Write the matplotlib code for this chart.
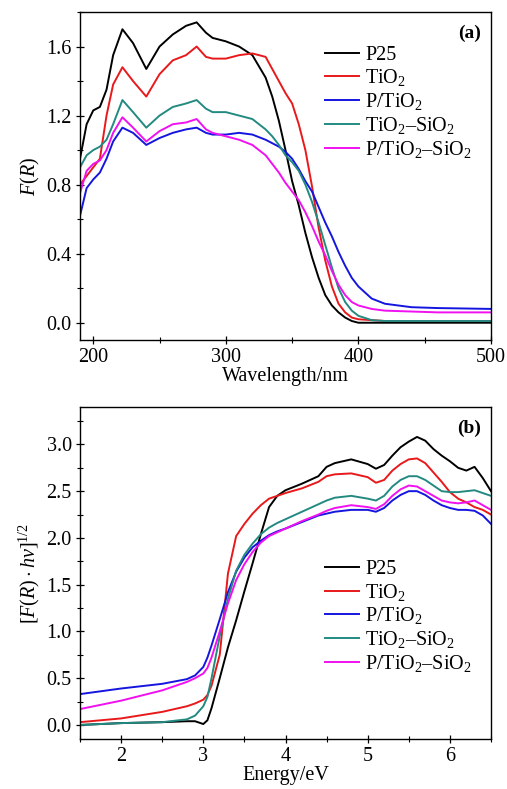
import matplotlib
matplotlib.use("Agg")
import matplotlib.pyplot as plt
from matplotlib.ticker import MultipleLocator, FormatStrFormatter

plt.rcParams['font.family'] = ['Liberation Serif', 'DejaVu Serif']
plt.rcParams['mathtext.fontset'] = 'custom'
plt.rcParams['mathtext.rm'] = 'Liberation Serif'
plt.rcParams['mathtext.it'] = 'Liberation Serif:italic'
plt.rcParams['mathtext.bf'] = 'Liberation Serif:bold'

labels = ['P25', 'TiO$_2$', 'P/TiO$_2$', 'TiO$_2$\u2013SiO$_2$', 'P/TiO$_2$\u2013SiO$_2$']
colors = ['#000000', '#e8191b', '#1515e0', '#238a82', '#f010f0']

# Panel (a): wavelength (nm) vs F(R)
wavelength = [190, 195, 200, 205, 210, 215, 222, 230, 240, 250, 260, 270, 278, 285, 290, 300,
              310, 320, 330, 335, 340, 345, 350, 355, 360, 365, 370, 375, 380, 385, 390, 395,
              400, 410, 420, 440, 460, 500]
fr_p25 = [0.95, 1.15, 1.23, 1.25, 1.35, 1.55, 1.70, 1.62, 1.47, 1.60, 1.67, 1.72, 1.74, 1.68, 1.65, 1.63,
          1.60, 1.55, 1.42, 1.31, 1.17, 1.00, 0.82, 0.68, 0.52, 0.38, 0.26, 0.16, 0.10, 0.06, 0.03, 0.01,
          0.00, 0.00, 0.00, 0.00, 0.00, 0.00]
fr_tio2 = [0.80, 0.85, 0.90, 0.95, 1.20, 1.38, 1.48, 1.40, 1.31, 1.44, 1.52, 1.55, 1.60, 1.54, 1.53, 1.53,
           1.55, 1.56, 1.54, 1.47, 1.40, 1.33, 1.27, 1.15, 1.00, 0.79, 0.55, 0.36, 0.21, 0.11, 0.06, 0.03,
           0.02, 0.015, 0.01, 0.01, 0.01, 0.01]
fr_ptio2 = [0.62, 0.78, 0.83, 0.87, 0.95, 1.05, 1.13, 1.10, 1.03, 1.07, 1.10, 1.12, 1.13, 1.10, 1.09, 1.09,
            1.10, 1.09, 1.06, 1.04, 1.02, 0.99, 0.95, 0.89, 0.82, 0.76, 0.67, 0.58, 0.50, 0.41, 0.33, 0.26,
            0.21, 0.14, 0.11, 0.09, 0.085, 0.08]
fr_tisi = [0.90, 0.97, 1.00, 1.02, 1.06, 1.15, 1.29, 1.22, 1.13, 1.20, 1.25, 1.27, 1.29, 1.24, 1.22, 1.22,
           1.20, 1.18, 1.12, 1.08, 1.03, 0.97, 0.93, 0.88, 0.80, 0.70, 0.58, 0.45, 0.32, 0.20, 0.12, 0.07,
           0.04, 0.015, 0.01, 0.01, 0.01, 0.01]
fr_ptisi = [0.75, 0.88, 0.92, 0.94, 1.00, 1.10, 1.19, 1.13, 1.05, 1.11, 1.15, 1.16, 1.18, 1.12, 1.10, 1.08,
            1.06, 1.03, 0.97, 0.92, 0.87, 0.81, 0.76, 0.71, 0.64, 0.56, 0.47, 0.39, 0.30, 0.22, 0.16, 0.12,
            0.10, 0.08, 0.07, 0.065, 0.06, 0.06]

# Panel (b): energy (eV) vs [F(R)*hv]^1/2
energy = [1.5, 2.0, 2.5, 2.8, 2.9, 3.0, 3.05, 3.1, 3.2, 3.3, 3.4, 3.5, 3.6, 3.7, 3.8, 3.9, 4.0, 4.2, 4.4,
          4.5, 4.6, 4.8, 5.0, 5.1, 5.2, 5.3, 5.4, 5.5, 5.6, 5.7, 5.8, 5.9, 6.0, 6.1, 6.2, 6.3, 6.4, 6.5]
tauc_p25 = [0.00, 0.02, 0.03, 0.04, 0.04, 0.01, 0.05, 0.18, 0.50, 0.83, 1.12, 1.43, 1.73, 2.04, 2.33, 2.45,
            2.51, 2.58, 2.66, 2.76, 2.80, 2.84, 2.79, 2.74, 2.78, 2.88, 2.97, 3.03, 3.08, 3.04, 2.95, 2.88,
            2.82, 2.75, 2.72, 2.76, 2.64, 2.50]
tauc_tio2 = [0.03, 0.07, 0.14, 0.20, 0.23, 0.27, 0.32, 0.42, 0.75, 1.62, 2.02, 2.15, 2.26, 2.35, 2.42, 2.45,
             2.48, 2.53, 2.60, 2.66, 2.68, 2.69, 2.65, 2.59, 2.62, 2.72, 2.79, 2.84, 2.85, 2.80, 2.70, 2.60,
             2.49, 2.42, 2.38, 2.33, 2.30, 2.25]
tauc_ptio2 = [0.33, 0.39, 0.44, 0.49, 0.53, 0.62, 0.72, 0.85, 1.13, 1.42, 1.64, 1.79, 1.90, 1.97, 2.03, 2.07,
              2.10, 2.17, 2.24, 2.26, 2.28, 2.30, 2.30, 2.28, 2.32, 2.40, 2.46, 2.50, 2.50, 2.46, 2.40, 2.35,
              2.32, 2.30, 2.30, 2.29, 2.24, 2.15]
tauc_tisi = [0.00, 0.02, 0.03, 0.06, 0.10, 0.20, 0.30, 0.50, 0.95, 1.35, 1.65, 1.82, 1.94, 2.04, 2.11, 2.16,
             2.20, 2.28, 2.36, 2.40, 2.43, 2.45, 2.42, 2.40, 2.45, 2.55, 2.62, 2.66, 2.66, 2.62, 2.56, 2.50,
             2.49, 2.49, 2.50, 2.51, 2.48, 2.45]
tauc_ptisi = [0.17, 0.26, 0.37, 0.46, 0.50, 0.55, 0.61, 0.72, 1.00, 1.30, 1.55, 1.72, 1.85, 1.95, 2.02, 2.06,
              2.10, 2.18, 2.25, 2.29, 2.32, 2.35, 2.33, 2.31, 2.36, 2.45, 2.52, 2.56, 2.55, 2.50, 2.45, 2.40,
              2.38, 2.37, 2.38, 2.40, 2.35, 2.30]

W, H = 507, 789
fig = plt.figure(figsize=(W / 100, H / 100), dpi=100)

def px_axes(l, t, r, b):
    return fig.add_axes([l / W, 1 - b / H, (r - l) / W, (b - t) / H])

ax1 = px_axes(80, 12, 491, 340)
ax2 = px_axes(80, 407, 491, 739)

series_a = [fr_p25, fr_tio2, fr_ptio2, fr_tisi, fr_ptisi]
series_b = [tauc_p25, tauc_tio2, tauc_ptio2, tauc_tisi, tauc_ptisi]

for ys, c, lab in zip(series_a, colors, labels):
    ax1.plot(wavelength, ys, color=c, lw=1.4, label=lab)
for ys, c, lab in zip(series_b, colors, labels):
    ax2.plot(energy, ys, color=c, lw=1.4, label=lab)

fs = 14.5
for ax in (ax1, ax2):
    for side in ('top', 'right', 'left', 'bottom'):
        ax.spines[side].set_linewidth(1.0)
    ax.tick_params(which='both', direction='inout', top=False, right=False, labelsize=fs)
    ax.tick_params(which='major', length=6, width=0.9, pad=3)
    ax.tick_params(which='minor', length=4, width=0.8)

ax1.set_xlim(190, 500)
ax1.set_ylim(-0.1, 1.8)
ax1.xaxis.set_major_locator(MultipleLocator(100))
ax1.xaxis.set_minor_locator(MultipleLocator(50))
ax1.yaxis.set_major_locator(MultipleLocator(0.4))
ax1.yaxis.set_minor_locator(MultipleLocator(0.2))
ax1.yaxis.set_major_formatter(FormatStrFormatter('%.1f'))
ax1.set_xlabel('Wavelength/nm', fontsize=fs, labelpad=0)
ax1.set_ylabel('$F(R)$', fontsize=fs, labelpad=3)
ax1.text(0.975, 0.935, '(a)', transform=ax1.transAxes, ha='right', va='center',
         fontsize=14, fontweight='bold')
ax1.legend(loc='upper left', bbox_to_anchor=(0.596, 0.898), frameon=False, fontsize=fs,
           handlelength=1.7, handletextpad=0.3, labelspacing=0.14, borderpad=0, borderaxespad=0)

ax2.set_xlim(1.5, 6.5)
ax2.set_ylim(-0.15, 3.4)
ax2.xaxis.set_major_locator(MultipleLocator(1))
ax2.xaxis.set_minor_locator(MultipleLocator(0.5))
ax2.yaxis.set_major_locator(MultipleLocator(0.5))
ax2.yaxis.set_minor_locator(MultipleLocator(0.25))
ax2.yaxis.set_major_formatter(FormatStrFormatter('%.1f'))
ax2.set_xlabel('Energy/eV', fontsize=fs, labelpad=0)
ax2.set_ylabel(r'$[F(R)\cdot h\nu]^{1/2}$', fontsize=fs, labelpad=3)
ax2.text(0.975, 0.935, '(b)', transform=ax2.transAxes, ha='right', va='center',
         fontsize=14, fontweight='bold')
ax2.legend(loc='upper left', bbox_to_anchor=(0.596, 0.54), frameon=False, fontsize=fs,
           handlelength=1.7, handletextpad=0.3, labelspacing=0.14, borderpad=0, borderaxespad=0)

fig.savefig('out.png', dpi=100)
